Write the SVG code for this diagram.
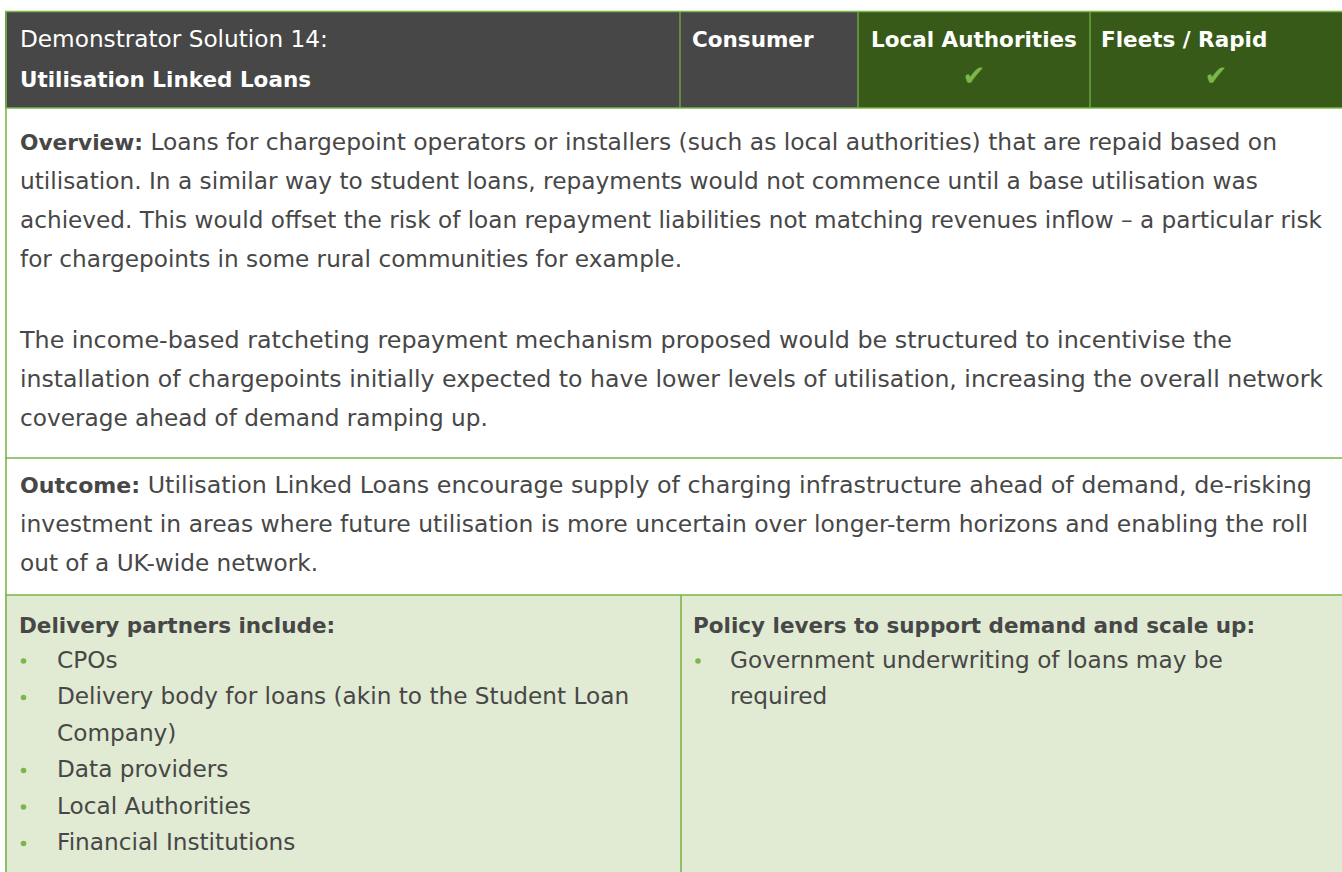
<svg xmlns="http://www.w3.org/2000/svg" width="1342" height="872" viewBox="0 0 1342 872">
<style>
text{font-family:"DejaVu Sans",sans-serif;font-size:23.2px;fill:#474747}
.b{font-weight:700;font-size:21.5px}
tspan.b{font-size:21.5px}
.w{fill:#ffffff}
.ck{fill:#7ab648;font-size:28px}
.bul{fill:#7ab648}
.ln{stroke:#7ab648;stroke-width:1.6;fill:none}
.dv{stroke:#7ab648;stroke-width:1.2;fill:none}
</style>
<rect x="0" y="0" width="1342" height="872" fill="#ffffff"/>
<g id="header">
<rect x="5" y="11" width="675" height="97" fill="#474747"/>
<rect x="680" y="11" width="178" height="97" fill="#474747"/>
<rect x="858" y="11" width="232" height="97" fill="#375a18"/>
<rect x="1090" y="11" width="252" height="97" fill="#375a18"/>
<text class="w" x="20" y="47">Demonstrator Solution 14:</text>
<text class="w b" x="20" y="87">Utilisation Linked Loans</text>
<text class="w b" x="692" y="47">Consumer</text>
<text class="w b" x="871" y="47">Local Authorities</text>
<text class="ck" x="974" y="85" text-anchor="middle">✔</text>
<text class="w b" x="1101" y="47">Fleets / Rapid</text>
<text class="ck" x="1216" y="85" text-anchor="middle">✔</text>
</g>
<g id="overview">
<text x="20" y="150" textLength="1257" lengthAdjust="spacingAndGlyphs"><tspan class="b">Overview:</tspan> Loans for chargepoint operators or installers (such as local authorities) that are repaid based on</text>
<text x="20" y="189" textLength="1238" lengthAdjust="spacingAndGlyphs">utilisation. In a similar way to student loans, repayments would not commence until a base utilisation was</text>
<text x="20" y="228" textLength="1302" lengthAdjust="spacingAndGlyphs">achieved. This would offset the risk of loan repayment liabilities not matching revenues inflow – a particular risk</text>
<text x="20" y="267">for chargepoints in some rural communities for example.</text>
<text x="20" y="348" textLength="1212" lengthAdjust="spacingAndGlyphs">The income-based ratcheting repayment mechanism proposed would be structured to incentivise the</text>
<text x="20" y="387" textLength="1303" lengthAdjust="spacingAndGlyphs">installation of chargepoints initially expected to have lower levels of utilisation, increasing the overall network</text>
<text x="20" y="426">coverage ahead of demand ramping up.</text>
</g>
<g id="outcome">
<text x="20" y="493" textLength="1292" lengthAdjust="spacingAndGlyphs"><tspan class="b">Outcome:</tspan> Utilisation Linked Loans encourage supply of charging infrastructure ahead of demand, de-risking</text>
<text x="20" y="532" textLength="1288" lengthAdjust="spacingAndGlyphs">investment in areas where future utilisation is more uncertain over longer-term horizons and enabling the roll</text>
<text x="20" y="571">out of a UK-wide network.</text>
</g>
<g id="bottom">
<rect x="5" y="595" width="1337" height="277" fill="#e1ead2"/>
</g>
<g id="delivery">
<text class="b" x="19" y="633">Delivery partners include:</text>
<circle class="bul" cx="23.5" cy="661" r="2.8"/>
<text x="57" y="668">CPOs</text>
<circle class="bul" cx="23.5" cy="697.5" r="2.8"/>
<text x="57" y="704">Delivery body for loans (akin to the Student Loan</text>
<text x="57" y="741">Company)</text>
<circle class="bul" cx="23.5" cy="770.5" r="2.8"/>
<text x="57" y="777">Data providers</text>
<circle class="bul" cx="23.5" cy="807" r="2.8"/>
<text x="57" y="814">Local Authorities</text>
<circle class="bul" cx="23.5" cy="843.5" r="2.8"/>
<text x="57" y="850">Financial Institutions</text>
</g>
<g id="policy">
<text class="b" x="693" y="633">Policy levers to support demand and scale up:</text>
<circle class="bul" cx="698" cy="661" r="2.8"/>
<text x="730" y="668">Government underwriting of loans may be</text>
<text x="730" y="704">required</text>
</g>
<g id="connectors">
<line class="ln" x1="5" y1="11.5" x2="1342" y2="11.5"/>
<line class="ln" x1="5" y1="108" x2="1342" y2="108"/>
<line class="ln" x1="5" y1="458" x2="1342" y2="458"/>
<line class="ln" x1="5" y1="595" x2="1342" y2="595"/>
<line class="ln" x1="6" y1="11" x2="6" y2="872"/>
<line class="dv" x1="680" y1="11" x2="680" y2="108"/>
<line class="dv" x1="858" y1="11" x2="858" y2="108"/>
<line class="dv" x1="1090" y1="11" x2="1090" y2="108"/>
<line class="ln" x1="681" y1="595" x2="681" y2="872"/>
</g>
</svg>
